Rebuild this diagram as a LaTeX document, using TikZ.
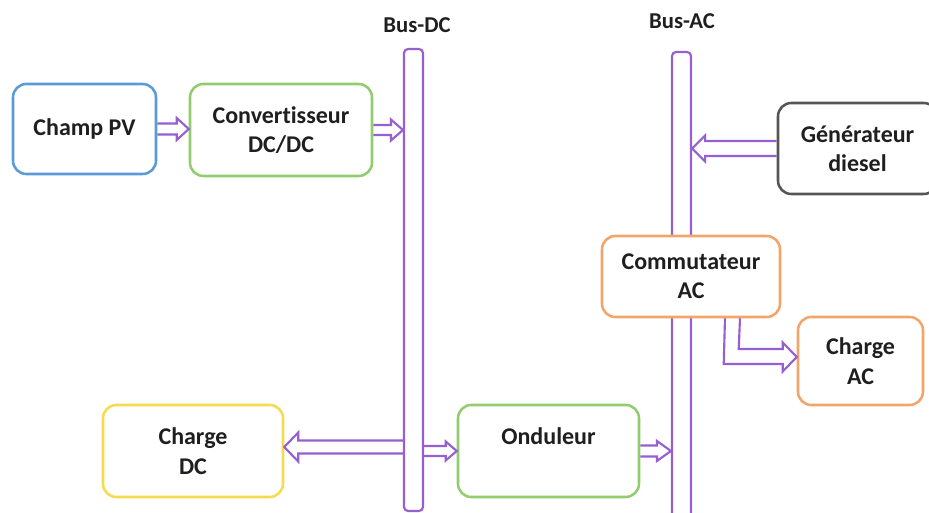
\documentclass[tikz,border=0pt]{standalone}
\usepackage{fontspec}
\setmainfont{Carlito}[Ligatures=NoCommon]
\usetikzlibrary{calc}
\definecolor{cblue}{RGB}{91,155,213}
\definecolor{cgreen}{RGB}{146,204,110}
\definecolor{cyellow}{RGB}{246,218,80}
\definecolor{corange}{RGB}{242,165,105}
\definecolor{cgray}{RGB}{85,85,85}
\definecolor{cpurple}{RGB}{150,95,210}
\newcommand\hollowarrow[5]{%
  \coordinate (hb) at ($(#2)!#5!(#1)$);
  \draw[harrow] ($(#1)!#3!90:(#2)$) -- ($(hb)!#3!90:(#2)$) -- ($(hb)!#4!90:(#2)$) -- (#2)
    -- ($(hb)!#4!-90:(#2)$) -- ($(hb)!#3!-90:(#2)$) -- ($(#1)!#3!-90:(#2)$);}
\begin{document}
\begin{tikzpicture}[x=0.75pt,y=-0.75pt,
  box/.style={draw, rounded corners=10pt, line width=1.9pt, fill=white, align=center,
    inner sep=0pt, text=black!88, font=\fontsize{18}{22}\selectfont\bfseries},
  lbl/.style={inner sep=0pt, text=black!88, font=\fontsize{17}{20}\selectfont\bfseries},
  bus/.style={draw=cpurple, line width=1.6pt, rounded corners=3pt, fill=white, inner sep=0pt},
  harrow/.style={draw=cpurple, line width=1.6pt, line join=miter}]
\fill[white] (0,0) rectangle (929,513);
\useasboundingbox (0,0) rectangle (929,513);
% buses
\node[bus, minimum width=14.25pt, minimum height=346.5pt] (busdc) at (413.5,280) {};
\node[bus, minimum width=14.25pt, minimum height=358.5pt] (busac) at (681.5,291) {};
\node[lbl] (busdclbl) at (417,25) {Bus-DC};
\node[lbl] (busaclbl) at (682,21) {Bus-AC};
% boxes
\node[box, draw=cblue, minimum width=107.25pt, minimum height=67.5pt] (pv) at (84.5,129) {Champ PV};
\node[box, draw=cgreen, minimum width=136.5pt, minimum height=69pt] (conv) at (281,130) {Convertisseur\\DC/DC};
\node[box, draw=cgray, minimum width=119.25pt, minimum height=68.25pt] (diesel) at (857.5,148.5) {Générateur\\diesel};
\node[box, draw=corange, minimum width=133.5pt, minimum height=60.75pt] (comm) at (691,276.5) {Commutateur\\AC};
\node[box, draw=corange, minimum width=93.75pt, minimum height=66pt] (chac) at (860.5,361) {Charge\\AC};
\node[box, draw=cyellow, minimum width=135pt, minimum height=69pt] (chdc) at (193,451) {Charge\\DC};
\node[box, draw=cgreen, minimum width=135.75pt, minimum height=69pt] (ond) at (548.5,451) {Onduleur\\\phantom{X}};
% connectors
\coordinate (t1) at (conv.west |- pv.east);
\hollowarrow{pv.east}{t1}{4.1pt}{8.25pt}{9pt}
\coordinate (t2) at (busdc.west |- conv.east);
\hollowarrow{conv.east}{t2}{3.75pt}{7.9pt}{9pt}
\coordinate (t3) at (busac.east |- diesel.west);
\hollowarrow{diesel.west}{t3}{5.6pt}{9.75pt}{9.75pt}
\coordinate (t4) at ([yshift=3pt]chdc.east);
\coordinate (f4) at (busdc.west |- t4);
\hollowarrow{f4}{t4}{4.9pt}{10.9pt}{10.5pt}
\coordinate (f5) at (busdc.east |- ond.west);
\hollowarrow{f5}{ond.west}{3.75pt}{7.1pt}{8.25pt}
\coordinate (t6) at (busac.west |- ond.east);
\hollowarrow{ond.east}{t6}{4.1pt}{7.5pt}{10.5pt}
% L-shaped arrow from the switch to the AC load
\coordinate (ltip) at ([yshift=3pt]chac.west);
\draw[harrow] ($(comm.south)+(34,0)$) -- ($(ltip)+(-73,7)$) -- ($(ltip)+(-14,7)$) -- ($(ltip)+(-14,14.5)$)
  -- (ltip) -- ($(ltip)+(-14,-14.5)$) -- ($(ltip)+(-14,-8)$) -- ($(ltip)+(-58,-8)$) -- ($(comm.south)+(49,0)$);
\end{tikzpicture}
\end{document}
